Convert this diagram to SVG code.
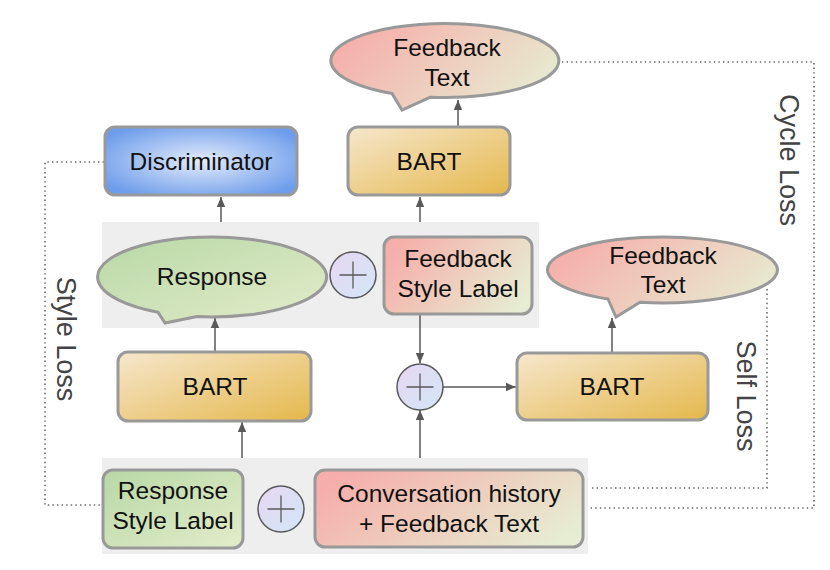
<svg xmlns="http://www.w3.org/2000/svg" width="830" height="570" viewBox="0 0 830 570">
<defs>
<linearGradient id="gBart" x1="0" y1="0" x2="1" y2="1"><stop offset="0" stop-color="#f6e7cd"/><stop offset="1" stop-color="#e5b84c"/></linearGradient>
<linearGradient id="gGreen" x1="0" y1="0" x2="1" y2="1"><stop offset="0" stop-color="#b8d8a6"/><stop offset="1" stop-color="#e3ecca"/></linearGradient>
<linearGradient id="gPink" x1="0" y1="0.3" x2="1" y2="0.7"><stop offset="0" stop-color="#f6aeaa"/><stop offset="1" stop-color="#e6edd2"/></linearGradient>
<linearGradient id="gPlus" x1="0" y1="0" x2="1" y2="1"><stop offset="0" stop-color="#e7d7f1"/><stop offset="1" stop-color="#d3e6f8"/></linearGradient>
<radialGradient id="gBlue" cx="0.5" cy="0.5" r="0.6"><stop offset="0" stop-color="#e4ecfb"/><stop offset="1" stop-color="#6e9deb"/></radialGradient>
<marker id="ah" markerUnits="userSpaceOnUse" markerWidth="10" markerHeight="10" viewBox="0 0 10 10" refX="10" refY="5" orient="auto"><path d="M0,0.8 L10,5 L0,9.2 Z" fill="#595959"/></marker>
</defs>
<style>
.box{stroke:#999999;stroke-width:3}
.lbl{font-family:"Liberation Sans",Arial,sans-serif;font-size:24.5px;fill:#111;text-anchor:middle}
.loss{font-family:"Liberation Sans",Arial,sans-serif;font-size:27px;fill:#444;text-anchor:middle}
.band{fill:#eeeeee}
.plus{fill:url(#gPlus);stroke:#595959;stroke-width:1.5}
.pl{stroke:#595959;stroke-width:1.3;fill:none}
.arr{stroke:#595959;stroke-width:1.5;fill:none;marker-end:url(#ah)}
.dot{stroke:#666;stroke-width:1.6;fill:none;stroke-dasharray:1.4 3.2}
</style>
<rect class="band" x="102" y="222" width="437" height="106"/>
<rect class="band" x="102" y="458" width="486" height="96"/>
<g id="connectors">
<line class="arr" x1="242" y1="458" x2="242" y2="422"/>
<line class="arr" x1="215" y1="352" x2="215" y2="318"/>
<line class="arr" x1="221" y1="222" x2="221" y2="197"/>
<line class="arr" x1="420" y1="222" x2="420" y2="197"/>
<line class="arr" x1="458" y1="127" x2="458" y2="100"/>
<line class="arr" x1="420" y1="314" x2="420" y2="363"/>
<line class="arr" x1="420" y1="458" x2="420" y2="410"/>
<line class="arr" x1="442" y1="387" x2="516" y2="387"/>
<line class="arr" x1="612" y1="353" x2="612" y2="318"/>
<polyline class="dot" points="104,162 45,162 45,505 102,505"/>
<polyline class="dot" points="562,62 814,62 814,508 588,508"/>
<polyline class="dot" points="767,289 767,488 592,488"/>
</g>
<g id="discriminator"><rect class="box" x="105" y="127" width="192" height="68" rx="10" fill="url(#gBlue)"/><text class="lbl" x="201" y="170">Discriminator</text></g>
<g id="bart-top"><rect class="box" x="348" y="127" width="162" height="68" rx="10" fill="url(#gBart)"/><text class="lbl" x="429" y="170">BART</text></g>
<g id="feedback-top"><path class="box" fill="url(#gPink)" d="M430,97.3 A114 37 0 1 0 392,93.4 L402,110 Z"/><text class="lbl" x="447" y="56">Feedback</text><text class="lbl" x="447" y="86">Text</text></g>
<g id="response"><path class="box" fill="url(#gGreen)" d="M197,316.6 A114.5 40 0 1 0 158,312.2 L165,323 Z"/><text class="lbl" x="212" y="285">Response</text></g>
<g id="plus-1"><circle class="plus" cx="353" cy="275" r="23"/><path class="pl" d="M339.5,275 H366.5 M353,261.5 V288.5"/></g>
<g id="feedback-style-label"><rect class="box" x="384" y="237" width="148" height="77" rx="10" fill="url(#gPink)"/><text class="lbl" x="458" y="267">Feedback</text><text class="lbl" x="458" y="297">Style Label</text></g>
<g id="feedback-right"><path class="box" fill="url(#gPink)" d="M640,302.3 A115 33 0 1 0 608,299 L616,317 Z"/><text class="lbl" x="663" y="264">Feedback</text><text class="lbl" x="663" y="293">Text</text></g>
<g id="bart-left"><rect class="box" x="118" y="352" width="193" height="69" rx="10" fill="url(#gBart)"/><text class="lbl" x="215" y="395">BART</text></g>
<g id="plus-2"><circle class="plus" cx="420" cy="387" r="23"/><path class="pl" d="M406.5,387 H433.5 M420,373.5 V400.5"/></g>
<g id="bart-right"><rect class="box" x="517" y="353" width="191" height="67" rx="10" fill="url(#gBart)"/><text class="lbl" x="612" y="395">BART</text></g>
<g id="response-style-label"><rect class="box" x="103" y="470" width="140" height="78" rx="10" fill="url(#gGreen)"/><text class="lbl" x="173" y="499">Response</text><text class="lbl" x="173" y="529">Style Label</text></g>
<g id="plus-3"><circle class="plus" cx="281" cy="509" r="23"/><path class="pl" d="M267.5,509 H294.5 M281,495.5 V522.5"/></g>
<g id="conversation"><rect class="box" x="315" y="470" width="268" height="77" rx="10" fill="url(#gPink)"/><text class="lbl" x="449" y="502">Conversation history</text><text class="lbl" x="449" y="532">+ Feedback Text</text></g>
<text class="loss" transform="translate(780,160) rotate(90)">Cycle Loss</text>
<text class="loss" transform="translate(737,396) rotate(90)">Self Loss</text>
<text class="loss" transform="translate(57,339) rotate(90)">Style Loss</text>
</svg>
